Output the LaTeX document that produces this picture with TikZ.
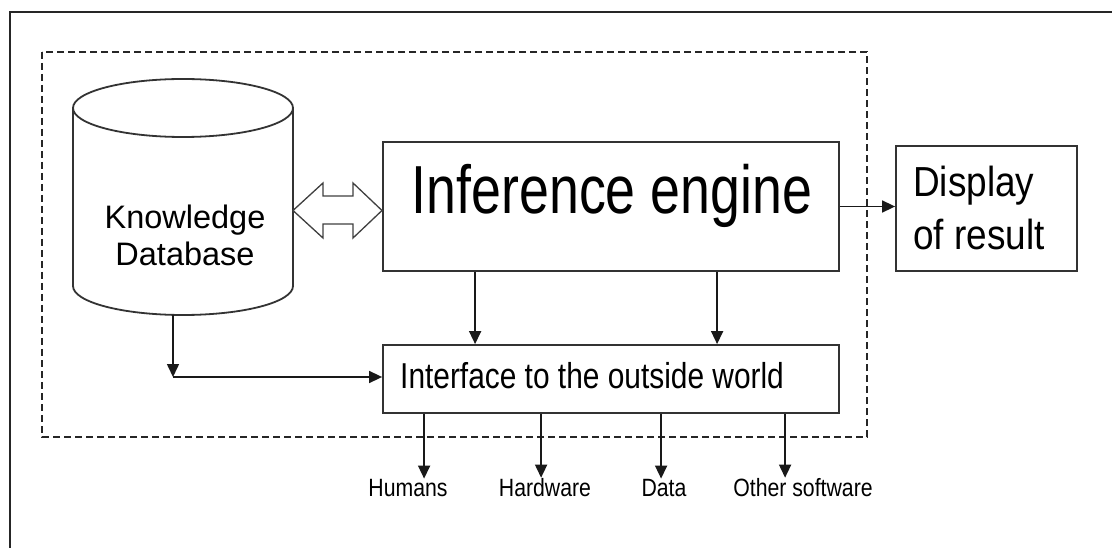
\documentclass[tikz,border=0pt]{standalone}
\usepackage{fontspec}
\setmainfont{Liberation Sans}
\newfontfamily\fontIE[FakeStretch=0.79]{Liberation Sans}
\newfontfamily\fontITF[FakeStretch=0.83]{Liberation Sans}
\newfontfamily\fontDSP[FakeStretch=0.88]{Liberation Sans}
\newfontfamily\fontLBL[FakeStretch=0.85]{Liberation Sans}
\usetikzlibrary{arrows.meta}
\begin{document}
\begin{tikzpicture}[x=1pt,y=-1pt,
  boxline/.style={draw=black!80, line width=1.8pt},
  blk/.style={boxline, inner sep=0pt, fill=white},
  txt/.style={inner sep=0pt, text=black},
  arr/.style={draw=black!90, line width=1.6pt, -{Triangle[length=13pt,width=12pt]}},
  lbl/.style={txt, font=\fontLBL\fontsize{25}{28}\selectfont, anchor=base}]
\useasboundingbox (0,0) rectangle (1112,548);
\fill[white] (0,0) rectangle (1112,548);
% outer frame
\draw[black!85, line width=1.3pt] (10,560) -- (10,12) -- (1125,12);
% dashed system boundary
\draw[black!85, line width=1.5pt, dash pattern=on 7pt off 4pt] (42,52) rectangle (867,437);
% knowledge database cylinder
\draw[boxline, fill=white] (73,108) -- (73,286) arc[start angle=180, end angle=0, x radius=110, y radius=29] -- (293,108);
\draw[boxline] (183,108) ellipse[x radius=110, y radius=29];
\node[txt, align=center, font=\fontsize{32.5}{37}\selectfont] (kb) at (185,235) {Knowledge\\Database};
\coordinate (kbbot) at (173,315);
\coordinate (kbcorner) at (173,377);
% boxes
\node[blk, minimum width=456pt, minimum height=129pt] (ie) at (611,206.5) {};
\node[txt, anchor=base, font=\fontIE\fontsize{68}{80}\selectfont] (ietext) at (612,214) {Inference engine};
\node[blk, minimum width=456pt, minimum height=68pt] (itf) at (611,379) {};
\node[txt, anchor=base west, font=\fontITF\fontsize{36}{40}\selectfont] (itftext) at (400,388) {Interface to the outside world};
\node[blk, minimum width=181pt, minimum height=125pt] (dsp) at (986.5,208.5) {};
\node[txt, anchor=west, align=left, font=\fontDSP\fontsize{42}{53}\selectfont] (dsptext) at (913,208) {Display\\of result};
% hollow double arrow between database and inference engine
\draw[black!75, line width=1.3pt, fill=white] (293,210.5) -- (323,183) -- (323,196) -- (353,196) -- (353,183) -- (382,210.5) -- (353,238) -- (353,224) -- (323,224) -- (323,238) -- cycle;
% output labels
\node[lbl] (hum) at (408,496) {Humans};
\node[lbl] (hw) at (545,496) {Hardware};
\node[lbl] (dat) at (664,496) {Data};
\node[lbl] (oth) at (803,496) {Other software};
% connectors
\draw[arr] (ie.east) -- (dsp.west |- ie.east);
\draw[arr] ([xshift=93pt]ie.south west) -- ([xshift=93pt]itf.north west);
\draw[arr] ([xshift=335pt]ie.south west) -- ([xshift=335pt]itf.north west);
\draw[arr] (kbbot) -- (kbcorner);
\draw[arr] (kbcorner) -- (itf.west |- kbcorner);
\draw[arr] ([xshift=42pt]itf.south west) -- ([xshift=42pt]itf.south west |- hum.north);
\draw[arr] ([xshift=159pt]itf.south west) -- ([xshift=159pt]itf.south west |- hw.north);
\draw[arr] ([xshift=279pt]itf.south west) -- ([xshift=279pt]itf.south west |- dat.north);
\draw[arr] ([xshift=403pt]itf.south west) -- ([xshift=403pt]itf.south west |- oth.north);
\end{tikzpicture}
\end{document}
